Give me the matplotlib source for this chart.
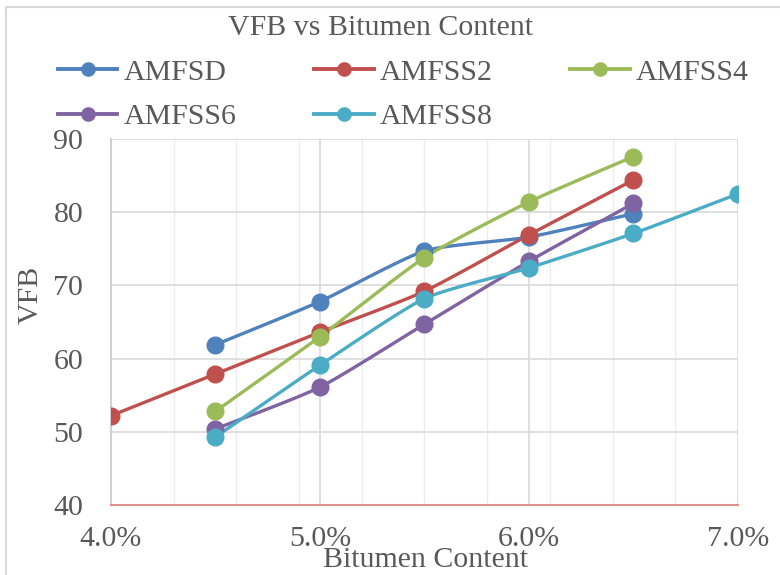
import numpy as np
import matplotlib.pyplot as plt
from matplotlib.ticker import FixedLocator, FuncFormatter
from matplotlib.lines import Line2D

plt.rcParams['font.family'] = ['Liberation Serif', 'DejaVu Serif']

# bitumen content (%) and VFB for each mix
bitumen = [4.0, 4.5, 5.0, 5.5, 6.0, 6.5, 7.0]
series_names = ['AMFSD', 'AMFSS2', 'AMFSS4', 'AMFSS6', 'AMFSS8']
amfsd_x = [4.5, 5.0, 5.5, 6.0, 6.5]
amfsd = [61.9, 67.8, 74.7, 76.6, 79.8]
amfss2_x = [4.0, 4.5, 5.0, 5.5, 6.0, 6.5]
amfss2 = [52.2, 57.9, 63.6, 69.2, 76.9, 84.4]
amfss4_x = [4.5, 5.0, 5.5, 6.0, 6.5]
amfss4 = [52.8, 63.0, 73.8, 81.4, 87.6]
amfss6_x = [4.5, 5.0, 5.5, 6.0, 6.5]
amfss6 = [50.4, 56.1, 64.7, 73.3, 81.2]
amfss8_x = [4.5, 5.0, 5.5, 6.0, 6.5, 7.0]
amfss8 = [49.3, 59.1, 68.2, 72.4, 77.1, 82.5]
colors = ['#4F81BD', '#C0504D', '#9BBB59', '#8064A2', '#4BACC6']

x_ticks = [4.0, 5.0, 6.0, 7.0]
y_ticks = [40, 50, 60, 70, 80, 90]
text_col = '#595959'
fs = 21.5


def smooth(x, y, n=20, tension=0.3):
    # cardinal spline through the points, like a spreadsheet "smoothed line"
    x = np.asarray(x, float)
    y = np.asarray(y, float)
    px = np.concatenate([[x[0]], x, [x[-1]]])
    py = np.concatenate([[y[0]], y, [y[-1]]])
    xs, ys = [], []
    t = np.linspace(0, 1, n)
    h1 = 2 * t**3 - 3 * t**2 + 1
    h2 = -2 * t**3 + 3 * t**2
    h3 = t**3 - 2 * t**2 + t
    h4 = t**3 - t**2
    for i in range(1, len(px) - 2):
        mx0 = tension * (px[i + 1] - px[i - 1])
        my0 = tension * (py[i + 1] - py[i - 1])
        mx1 = tension * (px[i + 2] - px[i])
        my1 = tension * (py[i + 2] - py[i])
        xs.append(h1 * px[i] + h2 * px[i + 1] + h3 * mx0 + h4 * mx1)
        ys.append(h1 * py[i] + h2 * py[i + 1] + h3 * my0 + h4 * my1)
    return np.concatenate(xs), np.concatenate(ys)


fig = plt.figure(figsize=(7.8, 5.75), dpi=100)
ax = fig.add_axes([0.1423, 0.1217, 0.8038, 0.6366])

# chart frame
fig.add_artist(Line2D([0.008, 1.0], [0.988, 0.988], color='#d9d9d9', lw=1.5))
fig.add_artist(Line2D([0.008, 0.008], [0.0, 0.988], color='#d9d9d9', lw=1.5))

all_x = [amfsd_x, amfss2_x, amfss4_x, amfss6_x, amfss8_x]
all_y = [amfsd, amfss2, amfss4, amfss6, amfss8]
for xs, ys, c in zip(all_x, all_y, colors):
    sx, sy = smooth(xs, ys)
    ax.plot(sx, sy, color=c, lw=2.4, solid_capstyle='round', zorder=3)
    ax.plot(xs, ys, 'o', color=c, ms=12, zorder=4)

ax.set_xlim(bitumen[0], bitumen[-1])
ax.set_ylim(40, 90)
ax.xaxis.set_major_locator(FixedLocator(x_ticks))
ax.xaxis.set_minor_locator(FixedLocator(np.arange(4.0, 7.01, 0.3)))
ax.yaxis.set_major_locator(FixedLocator(y_ticks))
ax.xaxis.set_major_formatter(FuncFormatter(lambda v, p: f'{v:.1f}%'))
ax.grid(which='major', color='#d9d9d9', lw=1.2)
ax.grid(which='minor', axis='x', color='#ececec', lw=1.0)
ax.set_axisbelow(True)
ax.tick_params(which='both', length=0, labelsize=fs, colors=text_col)
ax.tick_params(axis='x', pad=15)
ax.tick_params(axis='y', pad=20)

for s in ['top', 'right']:
    ax.spines[s].set_visible(False)
ax.spines['left'].set_color('#d0d0d0')
ax.spines['left'].set_linewidth(1.5)
ax.spines['bottom'].set_color('#e0908c')
ax.spines['bottom'].set_linewidth(1.5)

fig.text(0.545, 1 - 560 / 575, 'Bitumen Content', fontsize=fs, color=text_col,
         ha='center', va='center')
fig.text(31 / 780, 1 - 295 / 575, 'VFB', fontsize=fs, color=text_col,
         ha='center', va='center', rotation=90)
fig.text(0.488, 1 - 28 / 575, 'VFB vs Bitumen Content', fontsize=fs, color=text_col,
         ha='center', va='center')

# legend laid out row by row, three per row
order = [0, 3, 1, 4, 2]
handles = [Line2D([], [], color=colors[i], lw=2.8, marker='o', ms=9.5) for i in order]
labels = [series_names[i] for i in order]
fig.legend(handles, labels, loc='upper left', bbox_to_anchor=(0.074, 0.898),
           ncol=3, frameon=False, fontsize=fs, handlelength=2.0, handletextpad=0.2,
           columnspacing=2.6, labelspacing=0.6, labelcolor=text_col,
           borderaxespad=0, borderpad=0)

fig.savefig('out.png', dpi=100)
